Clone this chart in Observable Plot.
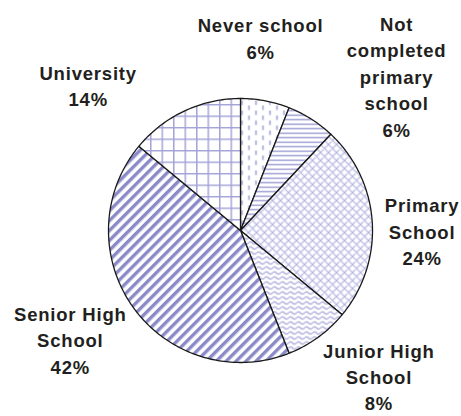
<!DOCTYPE html>
<html><head><meta charset="utf-8">
<script src="https://cdn.jsdelivr.net/npm/d3@7"></script>
<script src="https://cdn.jsdelivr.net/npm/@observablehq/plot@0.6"></script>
<style>body{margin:0;background:#fff}#chart svg{display:block}</style>
</head><body><div id="chart"></div>
<script>
// ---- data ----
const categories = ["Never school", "Not completed primary school", "Primary School", "Junior High School", "Senior High School", "University"];
const shares = [6, 6, 24, 8, 42, 14];
const labelLines = [
  ["Never school"],
  ["Not", "completed", "primary", "school"],
  ["Primary", "School"],
  ["Junior High", "School"],
  ["Senior High", "School"],
  ["University"]
];

// ---- styling / layout (not data) ----
const patternIds = ["p-never", "p-notcomp", "p-primary", "p-junior", "p-senior", "p-univ"];
const labelRadius = 1.5;
const labelNudge = [[-17, 1], [50, 12], [-16, 12], [22, -15], [-10, -8], [-68, 33]];

// ---- pie geometry from the shares ----
const arcs = d3.pie().sort(null).value(d => d)(shares);
const polyRows = [];
arcs.forEach((a, i) => {
  const cat = categories[i];
  const pat = `url(#${patternIds[i]})`;
  polyRows.push({cat, pat, x: 0, y: 0});
  const n = Math.max(4, Math.ceil((a.endAngle - a.startAngle) / (Math.PI / 180)));
  for (let k = 0; k <= n; k++) {
    const t = a.startAngle + (a.endAngle - a.startAngle) * k / n;
    polyRows.push({cat, pat, x: Math.sin(t), y: Math.cos(t)});
  }
  polyRows.push({cat, pat, x: 0, y: 0});
});

const labelRows = arcs.map((a, i) => {
  const mid = (a.startAngle + a.endAngle) / 2;
  return {
    text: [...labelLines[i], `${shares[i]}%`].join("\n"),
    x: labelRadius * Math.sin(mid),
    y: labelRadius * Math.cos(mid),
    i
  };
});

const chart = Plot.plot({
  width: 461,
  height: 416,
  marginLeft: 108,
  marginRight: 89,
  marginTop: 98,
  marginBottom: 54,
  x: {domain: [-1, 1], axis: null},
  y: {domain: [-1, 1], axis: null},
  color: {type: "identity"},
  style: {background: "#fff", overflow: "visible"},
  marks: [
    Plot.line(polyRows, {x: "x", y: "y", z: "cat", fill: "pat", stroke: "#1a1a1a", strokeWidth: 1.3, strokeLinejoin: "round", curve: "linear"}),
    ...labelRows.map(r => Plot.text([r], {
      x: "x", y: "y", text: "text",
      dx: labelNudge[r.i][0], dy: labelNudge[r.i][1],
      lineAnchor: "middle", lineHeight: r.i === 3 ? 1.4 : 1.44,
      fontSize: 18.5, fontWeight: "bold",
      fontFamily: "'Liberation Sans', Arial, sans-serif",
      fill: "#231f20", textAnchor: "middle"
    }))
  ]
});

// pattern definitions
const svg = d3.select(chart);
svg.selectAll("text").style("letter-spacing", "0.8px");
const defs = svg.insert("defs", ":first-child");
const C = "#9a9ad3";
function pat(id, w, h, extra) {
  const p = defs.append("pattern").attr("id", id).attr("patternUnits", "userSpaceOnUse").attr("width", w).attr("height", h);
  if (extra) p.attr("patternTransform", extra);
  p.append("rect").attr("width", w).attr("height", h).attr("fill", "#fff");
  return p;
}
// never school: staggered vertical dashes
let p = pat("p-never", 14, 10);
p.append("line").attr("x1", 3.5).attr("x2", 3.5).attr("y1", 0).attr("y2", 4.5).attr("stroke", C).attr("stroke-width", 1.5);
p.append("line").attr("x1", 10.5).attr("x2", 10.5).attr("y1", 5).attr("y2", 9.5).attr("stroke", C).attr("stroke-width", 1.5);
// not completed: horizontal lines
p = pat("p-notcomp", 6, 4.5);
p.append("line").attr("x1", 0).attr("x2", 6).attr("y1", 2.2).attr("y2", 2.2).attr("stroke", C).attr("stroke-width", 1.4);
// primary: diagonal crosshatch
p = pat("p-primary", 8, 8);
p.append("path").attr("d", "M0 0L8 8M8 0L0 8M-1 7L1 9M7 -1L9 1M-1 1L1 -1M7 9L9 7").attr("stroke", "#aeaee0").attr("stroke-width", 1.1);
// junior: wavy lines
p = pat("p-junior", 8, 5);
p.append("path").attr("d", "M0 2.5 Q2 0.3 4 2.5 T8 2.5").attr("fill", "none").attr("stroke", "#a6a6db").attr("stroke-width", 1.2);
// senior: thick diagonal stripes
p = pat("p-senior", 7, 7, "rotate(45)");
p.append("rect").attr("x", 0).attr("y", 0).attr("width", 3.4).attr("height", 7).attr("fill", "#8a8ac9");
// university: square grid
p = pat("p-univ", 11.5, 11.5);
p.append("path").attr("d", "M0.75 0V11.5M0 0.75H11.5").attr("stroke", "#a4a4d8").attr("stroke-width", 1.5);

document.getElementById("chart").append(chart);
</script>
</body></html>
